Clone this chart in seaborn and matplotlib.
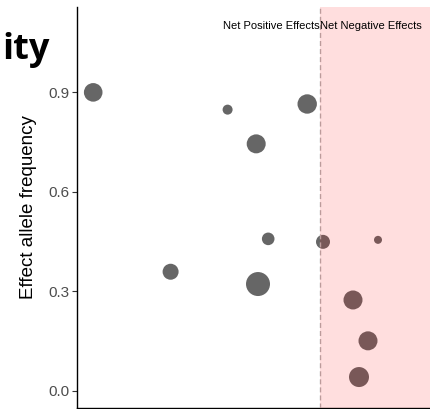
import matplotlib
matplotlib.use("Agg")
import matplotlib.pyplot as plt
import seaborn as sns
import pandas as pd

# ---- data ----
effect = [-1.134, -0.462, -0.064, -0.319, -0.259, -0.747, -0.310,
          0.015, 0.290, 0.165, 0.240, 0.195]
eaf = [0.899, 0.847, 0.864, 0.744, 0.458, 0.359, 0.322,
       0.449, 0.455, 0.274, 0.151, 0.042]
radius_px = [9.3, 5.0, 9.7, 9.5, 6.3, 8.0, 12.0,
             7.0, 4.0, 9.5, 9.5, 10.0]
y_ticks = [0.0, 0.3, 0.6, 0.9]
y_label = "Effect allele frequency"
title = "ity"
label_pos = "Net Positive Effects"
label_neg = "Net Negative Effects"

df = pd.DataFrame({"effect": effect, "eaf": eaf,
                   "area": [(2 * r * 0.72) ** 2 for r in radius_px]})

sns.set_theme(style="white")
plt.rcParams["font.family"] = ["Liberation Sans", "DejaVu Sans"]

W, H = 430, 409
fig = plt.figure(figsize=(W / 100, H / 100), dpi=100)
ax = fig.add_axes([77 / W, 1 / H, (W - 77) / W, (408 - 7) / H])

amin, amax = df["area"].min(), df["area"].max()
sns.scatterplot(data=df, x="effect", y="eaf", size="area",
                sizes=(amin, amax), size_norm=(amin, amax),
                color="#666666", linewidth=0, legend=False, ax=ax, zorder=2)

xlim = ((77 - 320) / 200, (430 - 320) / 200)
ax.set_xlim(*xlim)
ax.set_ylim(-0.0512, 1.156)

ax.axvline(0, color="#b3b3b3", lw=1.0, dashes=(3.6, 2.2), zorder=3)
ax.axvspan(0, xlim[1], color="#ff0000", alpha=0.13, lw=0, zorder=4)

ax.text(0, 1.1, label_pos, ha="right", va="center", fontsize=8,
        color="black", zorder=5)
ax.text(0, 1.1, label_neg, ha="left", va="center", fontsize=8,
        color="black", zorder=5)

ax.set_yticks(y_ticks)
ax.set_yticklabels([f"{v:.1f}" for v in y_ticks])
ax.set_xticks([])
ax.set_xlabel("")
ax.set_ylabel(y_label, fontsize=13.5, color="black", labelpad=8)
ax.tick_params(axis="y", which="major", left=True, length=3.5, width=0.8,
               color="#333333", labelcolor="#4d4d4d", labelsize=11, pad=2)

for s in ["top", "right"]:
    ax.spines[s].set_visible(False)
for s in ["left", "bottom"]:
    ax.spines[s].set_color("black")
    ax.spines[s].set_linewidth(1.0)

fig.text(50 / W, 1 - 59 / H, title, ha="right", va="baseline", color="black",
         fontsize=26, fontweight="bold", family=["Open Sans", "DejaVu Sans"])

fig.savefig("out.png", dpi=100)
